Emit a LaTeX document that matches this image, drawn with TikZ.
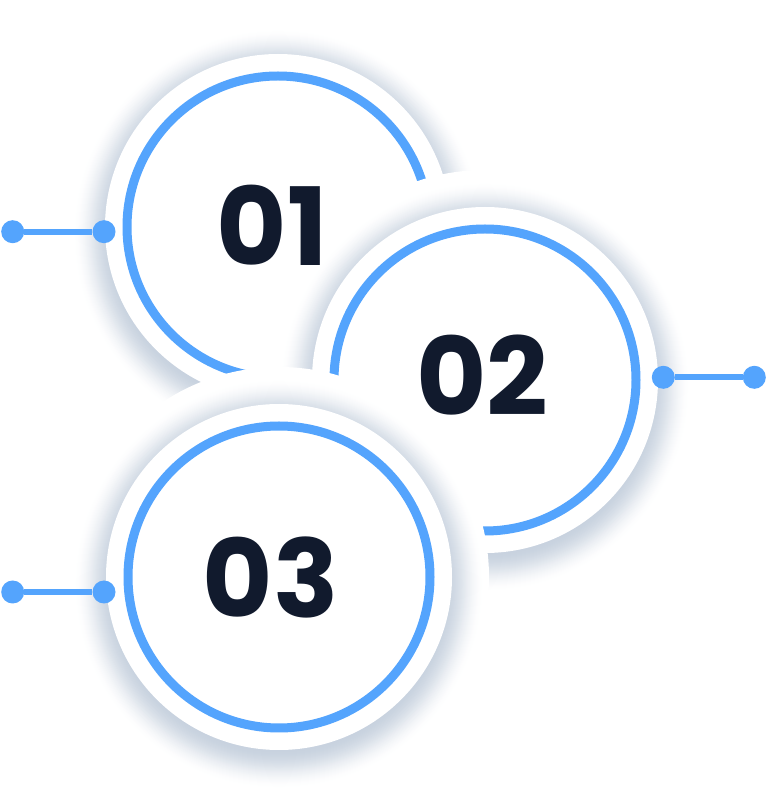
\documentclass[tikz,border=0pt]{standalone}
\usepackage{fontspec}
\newfontfamily\numfont{Poppins}
\definecolor{ringblue}{HTML}{54A4FD}
\definecolor{numdark}{HTML}{111A2D}
\definecolor{shc}{HTML}{C3CEDC}
\tikzset{
  haloback/.style={fill=white},
  disc/.style={circle, fill=white, minimum size=346pt, inner sep=0pt},
  ring/.style={draw=ringblue, line width=9pt},
  dotn/.style={circle, fill=ringblue, minimum size=23pt, inner sep=0pt},
  link/.style={draw=ringblue, line width=6pt},
  num/.style={inner sep=0pt, text=numdark, font=\numfont\bfseries\fontsize{108}{108}\selectfont}
}
\newcommand{\halodraw}[1]{%
  \fill[haloback] (#1) circle (210pt);
  \foreach \i in {0,...,40} {
    \pgfmathsetmacro\tt{\i/40}
    \pgfmathsetmacro\rr{205-39*\tt}
    \pgfmathsetmacro\pct{92*(3*\tt*\tt-2*\tt*\tt*\tt)}
    \fill[shc!\pct!white] ([yshift=-7pt]#1) circle (\rr pt);
  }
}
\begin{document}
\begin{tikzpicture}[x=1pt,y=1pt]
\useasboundingbox (0,0) rectangle (767,796);
\fill[white] (0,0) rectangle (767,796);
\coordinate (p1) at (278,569);
\coordinate (p2) at (485,416);
\coordinate (p3) at (279,219);
% disc 1
\halodraw{p1}
\node[disc] (c1) at (p1) {};
\draw[ring] (c1.center) circle (151pt);
\node[dotn] (d1a) at (12.7,564.3) {};
\node[dotn] (d1b) at (104,564.3) {};
\draw[link] (d1a) -- (d1b);
% disc 2
\halodraw{p2}
\node[disc] (c2) at (p2) {};
\draw[ring] (c2.center) circle (151pt);
\node[dotn] (d2a) at (663.3,418.7) {};
\node[dotn] (d2b) at (754.3,418.7) {};
\draw[link] (d2a) -- (d2b);
% disc 3
\halodraw{p3}
\node[disc] (c3) at (p3) {};
\draw[ring] (c3.center) circle (151pt);
\node[dotn] (d3a) at (12.7,204) {};
\node[dotn] (d3b) at (104,204) {};
\draw[link] (d3a) -- (d3b);
% numbers
\node[num] (t1) at (272.5,571) {01};
\node[num] (t2) at (482.5,421) {02};
\node[num] (t3) at (270.8,219) {03};
\end{tikzpicture}
\end{document}
